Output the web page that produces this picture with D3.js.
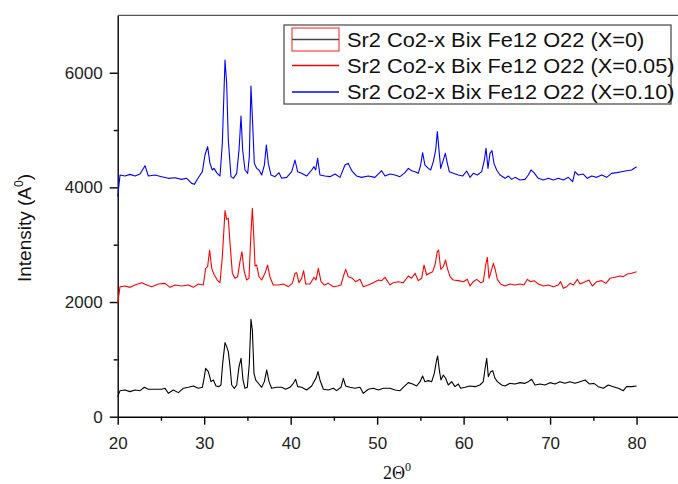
<!DOCTYPE html>
<html>
<head>
<meta charset="utf-8">
<script src="https://cdn.jsdelivr.net/npm/d3@7"></script>
<style>
  body { margin: 0; background: #fff; }
  svg { display: block; font-family: "Liberation Sans", Arial, sans-serif; }
</style>
</head>
<body>
<svg id="chart" width="678" height="484"></svg>
<script>
// Data (2-theta in degrees, intensity in counts)
var theta_x0 = [20.0,20.27,20.84,21.42,22.0,22.58,23.08,23.54,24.31,25.08,25.47,25.86,26.43,27.01,27.59,28.17,28.75,29.32,29.79,30.02,30.17,30.48,30.79,31.06,31.37,31.71,31.94,32.14,32.41,32.6,32.79,32.99,33.18,33.49,33.76,34.03,34.26,34.49,34.72,34.99,35.22,35.41,35.57,35.76,35.95,36.26,36.65,36.96,37.23,37.5,37.8,38.38,38.96,39.42,39.92,40.31,40.58,40.81,41.27,41.85,42.43,42.7,42.93,43.16,43.39,43.78,44.36,44.94,45.32,45.82,46.09,46.36,46.86,47.44,48.02,48.4,48.98,49.56,50.14,50.72,
  51.49,52.07,52.64,53.11,53.61,54.11,54.57,54.96,55.26,55.53,55.92,56.31,56.61,56.88,57.0,57.19,57.38,57.65,57.92,58.23,58.62,59.0,59.39,59.66,60.16,60.74,61.32,61.89,62.28,62.47,62.67,62.86,63.13,63.36,63.63,63.9,64.4,64.79,65.36,65.94,66.52,67.1,67.48,67.87,68.25,68.83,69.41,69.99,70.57,71.14,71.72,72.3,72.88,73.46,74.04,74.54,75.08,75.58,76.16,76.73,77.31,77.89,78.47,78.85,79.43,80.0];
var int_x0 = [350,454,466,437,466,454,513,478,478,478,495,408,466,420,495,513,536,495,513,699,844,786,612,641,536,524,553,931,1292,1222,1135,873,553,495,553,873,1019,641,495,513,931,1699,1513,757,641,583,513,612,815,612,495,513,513,478,513,583,652,524,513,466,536,612,670,786,641,478,466,495,454,513,670,536,513,495,513,408,478,495,466,495,
  495,466,454,524,594,571,536,611,710,611,629,611,757,989,1059,815,640,728,670,553,611,524,571,495,513,536,524,553,611,827,1018,699,786,803,670,611,553,536,582,571,594,582,611,652,553,571,553,594,571,611,582,611,582,611,640,571,582,524,495,553,524,495,454,524,524,536];

var theta_x05 = [20.0,20.27,20.84,21.42,22.0,22.77,23.35,23.93,24.7,25.47,26.05,26.63,27.4,28.17,28.75,29.32,29.9,30.17,30.4,30.63,30.87,31.17,31.56,31.83,32.1,32.41,32.6,32.79,32.99,33.26,33.56,33.87,34.14,34.37,34.6,34.91,35.18,35.41,35.57,35.72,35.88,36.07,36.34,36.65,37.03,37.34,37.61,37.99,38.57,39.15,39.73,40.19,40.5,40.69,40.96,41.27,41.5,41.74,42.24,42.7,42.93,43.2,43.51,43.89,44.36,44.94,45.44,45.82,46.09,46.36,46.67,47.13,47.52,48.02,48.4,48.98,49.56,50.14,50.52,50.91,
  51.49,51.87,52.45,53.03,53.61,53.99,54.38,54.76,55.15,55.42,55.73,56.04,56.42,56.69,56.96,57.11,57.35,57.65,57.92,58.12,58.43,58.81,59.39,59.97,60.43,60.74,61.12,61.51,61.97,62.28,62.55,62.74,62.94,63.17,63.44,63.67,63.9,64.28,64.79,65.36,65.94,66.52,66.98,67.37,67.75,68.14,68.64,69.22,69.8,70.37,70.95,71.22,71.53,71.92,72.3,72.69,73.15,73.46,74.04,74.5,74.88,75.39,75.96,76.46,76.93,77.51,78.08,78.47,78.93,79.43,80.0];
var int_x05 = [1977,2268,2280,2256,2297,2338,2297,2268,2314,2326,2256,2297,2280,2297,2256,2314,2297,2588,2617,2908,2588,2471,2373,2338,2791,3594,3442,3460,3024,2501,2413,2442,2704,2878,2559,2384,2413,3198,3634,3198,2628,2646,2442,2384,2501,2646,2431,2297,2297,2314,2268,2326,2501,2512,2338,2413,2547,2314,2314,2431,2384,2588,2355,2297,2326,2268,2280,2297,2442,2570,2442,2413,2355,2396,2268,2297,2338,2384,2373,2431,
  2297,2338,2355,2338,2454,2414,2501,2373,2414,2646,2472,2501,2530,2646,2879,2908,2571,2617,2733,2588,2443,2384,2373,2355,2396,2280,2355,2396,2338,2355,2646,2780,2414,2530,2675,2559,2396,2315,2280,2315,2297,2315,2297,2396,2355,2373,2315,2280,2297,2268,2297,2355,2239,2268,2326,2297,2396,2315,2355,2384,2280,2355,2373,2326,2414,2431,2454,2443,2489,2501,2530];

var theta_x10 = [20.0,20.27,20.84,21.42,22.0,22.58,23.16,23.54,24.31,25.08,25.86,26.63,27.4,27.98,28.55,28.86,29.32,29.79,30.09,30.4,30.67,30.94,31.14,31.44,31.83,32.1,32.41,32.6,32.79,33.1,33.37,33.76,34.03,34.26,34.45,34.72,35.03,35.22,35.41,35.57,35.8,36.07,36.34,36.65,36.96,37.19,37.42,37.73,38.19,38.65,38.96,39.54,40.12,40.5,40.81,41.27,41.85,42.43,42.7,42.89,43.12,43.39,43.97,44.55,45.13,45.71,46.28,46.67,47.06,47.63,48.21,48.98,49.75,50.52,50.91,
  51.49,52.07,52.64,53.22,53.61,53.99,54.38,54.76,55.03,55.26,55.53,55.92,56.19,56.5,56.77,56.96,57.19,57.35,57.65,57.89,58.12,58.35,58.81,59.39,59.89,60.35,60.74,61.12,61.59,62.09,62.4,62.59,62.82,63.05,63.28,63.51,63.82,64.21,64.79,65.17,65.56,65.94,66.52,67.1,67.48,67.79,68.14,68.64,69.22,69.8,70.37,70.95,71.53,72.11,72.61,72.88,73.26,73.84,74.3,74.81,75.39,75.96,76.54,77.12,77.7,78.28,78.85,79.43,80.0];
var int_x10 = [3840,4215,4198,4227,4198,4233,4379,4198,4216,4187,4158,4169,4140,4158,4070,4053,4169,4274,4565,4710,4419,4303,4332,4257,4198,4768,6222,5815,4826,4187,4158,4245,4652,5245,4652,4303,4245,4536,5768,5233,4419,4332,4303,4216,4390,4739,4419,4216,4187,4256,4158,4175,4274,4477,4274,4245,4198,4303,4361,4303,4506,4216,4198,4187,4233,4175,4390,4419,4291,4198,4175,4198,4175,4291,4198,
  4233,4216,4187,4257,4332,4291,4274,4245,4390,4605,4390,4332,4303,4448,4652,4972,4594,4332,4477,4594,4419,4274,4245,4216,4198,4286,4175,4245,4216,4274,4477,4681,4332,4594,4640,4419,4303,4216,4158,4198,4140,4175,4129,4140,4216,4303,4257,4158,4129,4158,4129,4158,4129,4175,4100,4274,4216,4233,4158,4198,4175,4216,4175,4245,4257,4274,4291,4303,4361];

var seriesLabels = ["Sr2 Co2-x Bix Fe12 O22 (X=0)", "Sr2 Co2-x Bix Fe12 O22 (X=0.05)", "Sr2 Co2-x Bix Fe12 O22 (X=0.10)"];
var seriesColors = ["#000000", "#ff0000", "#0000ff"];

var xMajor = [20, 30, 40, 50, 60, 70, 80];
var xMinor = [25, 35, 45, 55, 65, 75];
var yMajor = [0, 2000, 4000, 6000];
var yMinor = [1000, 3000, 5000];

// Setup
const svg = d3.select("#chart");
const width = 678;
const height = 484;
const margin = { top: 15.4, left: 117.7, bottom: 67.3 };

const x = d3.scaleLinear().domain([20, 85]).range([margin.left, 679.8]);
const y = d3.scaleLinear().domain([0, 7000]).range([height - margin.bottom, margin.top]);

function toPoints(th, val) {
  return th.map(function(t, i) { return { x: t, y: val[i] }; });
}
const series = [
  toPoints(theta_x0, int_x0),
  toPoints(theta_x05, int_x05),
  toPoints(theta_x10, int_x10)
];

// Axes
svg.append("g").attr("transform", `translate(0,${y(0)})`)
  .call(d3.axisBottom(x).tickValues(xMajor).tickSize(8).tickSizeOuter(0).tickPadding(12).tickFormat(d3.format("d")));
svg.append("g").attr("transform", `translate(0,${y(0)})`)
  .call(d3.axisBottom(x).tickValues(xMinor).tickSize(4).tickFormat(""))
  .select(".domain").remove();

svg.append("g").attr("transform", `translate(${margin.left},0)`)
  .call(d3.axisLeft(y).tickValues(yMajor).tickSize(8).tickSizeOuter(0).tickPadding(7).tickFormat(d3.format("d")));
svg.append("g").attr("transform", `translate(${margin.left},0)`)
  .call(d3.axisLeft(y).tickValues(yMinor).tickSize(4).tickFormat(""))
  .select(".domain").remove();

svg.selectAll(".domain, .tick line")
  .attr("stroke", "#000")
  .attr("stroke-width", 1.4);
svg.selectAll(".tick text")
  .attr("fill", "#222")
  .style("font-size", "17px")
  .style("font-family", "'Liberation Sans', Arial, sans-serif");

// top frame line
svg.append("line")
  .attr("x1", x(20)).attr("x2", width)
  .attr("y1", y(7000)).attr("y2", y(7000))
  .attr("stroke", "#555")
  .attr("stroke-width", 1.4);

// Lines
const line = d3.line().x(d => x(d.x)).y(d => y(d.y));
svg.selectAll(".series")
  .data(series)
  .enter()
  .append("path")
  .attr("class", "series")
  .attr("d", line)
  .attr("fill", "none")
  .attr("stroke", (d, i) => seriesColors[i])
  .attr("stroke-width", 1.1)
  .attr("stroke-linejoin", "round");

// Axis titles
const yTitle = svg.append("text")
  .attr("transform", "translate(31,228) rotate(-90)")
  .attr("text-anchor", "middle")
  .attr("fill", "#111")
  .style("font-size", "19px");
yTitle.append("tspan").text("Intensity (A");
yTitle.append("tspan").attr("dy", -8).style("font-size", "12px").text("0");
yTitle.append("tspan").attr("dy", 8).text(")");

const xTitle = svg.append("text")
  .attr("x", 397)
  .attr("y", 479)
  .attr("text-anchor", "middle")
  .attr("fill", "#111")
  .style("font-family", "'Liberation Serif', 'Times New Roman', serif")
  .style("font-size", "18px");
xTitle.append("tspan").text("2\u0398");
xTitle.append("tspan").attr("dy", -8).style("font-size", "12px").text("0");

// Legend
const legend = svg.append("g");
legend.append("rect")
  .attr("x", 284).attr("y", 25)
  .attr("width", 387).attr("height", 79)
  .attr("fill", "#fff")
  .attr("stroke", "#444")
  .attr("stroke-width", 1.2);

const rowY = [39.5, 65.5, 92];
legend.append("rect")
  .attr("x", 292).attr("y", 28)
  .attr("width", 47).attr("height", 23)
  .attr("fill", "none")
  .attr("stroke", "#ff4040")
  .attr("stroke-width", 1.2);

seriesLabels.forEach(function(label, i) {
  legend.append("line")
    .attr("x1", 292).attr("x2", 339)
    .attr("y1", rowY[i]).attr("y2", rowY[i])
    .attr("stroke", i == 0 ? "#444" : seriesColors[i])
    .attr("stroke-width", 1.4);
  // text is a little wider than the plain font, so stretch it sideways
  legend.append("text")
    .attr("transform", `translate(347,${rowY[i] + 7}) scale(1.09,1)`)
    .attr("fill", "#111")
    .style("font-size", "20px")
    .text(label);
});
</script>
</body>
</html>
